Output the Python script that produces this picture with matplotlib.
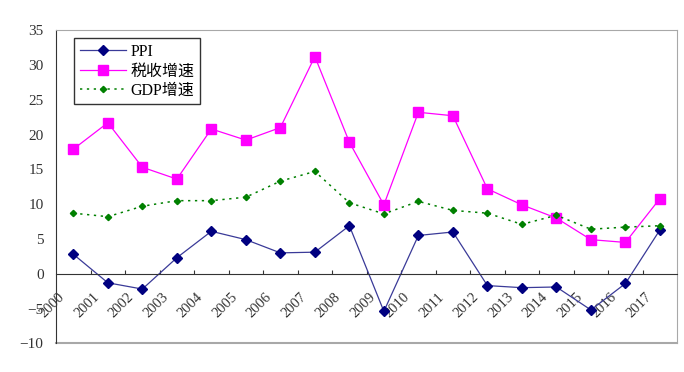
import matplotlib.pyplot as plt
import matplotlib.transforms as mtransforms

years = [str(y) for y in range(2000, 2018)]
ppi = [2.8, -1.3, -2.2, 2.3, 6.1, 4.9, 3.0, 3.1, 6.9, -5.4, 5.5, 6.0, -1.7, -2.0, -1.9, -5.2, -1.4, 6.3]
tax = [17.9, 21.7, 15.3, 13.6, 20.8, 19.2, 21.0, 31.2, 18.9, 9.9, 23.2, 22.7, 12.2, 9.9, 8.0, 4.9, 4.5, 10.8]
gdp = [8.7, 8.2, 9.7, 10.5, 10.5, 11.0, 13.3, 14.7, 10.2, 8.6, 10.4, 9.1, 8.7, 7.1, 8.4, 6.4, 6.7, 6.9]

plt.rcParams['font.family'] = ['Liberation Serif', 'Noto Sans CJK SC']

fig = plt.figure(figsize=(6.84, 3.72), dpi=100)
ax = fig.add_axes([0.082, 0.077, 0.908, 0.842])

x = list(range(len(years)))
ax.plot(x, ppi, color='#3a3a98', lw=0.9, marker='D', markersize=5.6,
        markerfacecolor='#000080', markeredgecolor='#000080', label='PPI')
ax.plot(x, tax, color='#ff00ff', lw=0.9, marker='s', markersize=7.8,
        markerfacecolor='#ff00ff', markeredgecolor='#ff00ff', label='税收增速')
ax.plot(x, gdp, color='#008000', lw=1.1, ls=(0, (1.5, 3)), marker='D', markersize=3.2,
        markerfacecolor='#008000', markeredgecolor='#008000', label='GDP增速')

ax.set_xlim(-0.5, len(years) - 0.5)
ax.set_ylim(-10, 35)
ax.set_yticks(range(-10, 40, 5))
ax.tick_params(axis='y', length=0, pad=9, labelsize=11, labelcolor='#333333')

# x axis sits on zero, ticks at category boundaries, labels at centres
ax.spines['bottom'].set_position(('data', 0))
ax.spines['bottom'].set_color('#333333')
ax.spines['left'].set_color('#333333')
for s in ['top', 'right']:
    ax.spines[s].set_color('#a8a8a8')
ax.axhline(-10, color='#a8a8a8', lw=1.5, clip_on=False)

ax.set_xticks([i + 0.5 for i in range(len(years) - 1)])
ax.set_xticklabels([])
ax.tick_params(axis='x', which='major', direction='in', length=3, color='#333333')
ax.set_xticks(x, minor=True)
ax.set_xticklabels(years, minor=True, rotation=45, ha='right', va='top')
ax.tick_params(axis='x', which='minor', length=0, pad=12, labelsize=10.5, labelcolor='#333333')
shift = mtransforms.ScaledTranslation(-6 / 100, 0, fig.dpi_scale_trans)
for lab in ax.get_xticklabels(minor=True):
    lab.set_transform(lab.get_transform() + shift)

leg = ax.legend(loc='upper left', bbox_to_anchor=(0.029, 0.974), fontsize=11.5,
                frameon=True, fancybox=False, edgecolor='black', handlelength=2.9,
                borderpad=0.35, labelspacing=0.22, handletextpad=0.3, borderaxespad=0)
leg.get_frame().set_linewidth(1.0)

fig.savefig('out.png', dpi=100)
